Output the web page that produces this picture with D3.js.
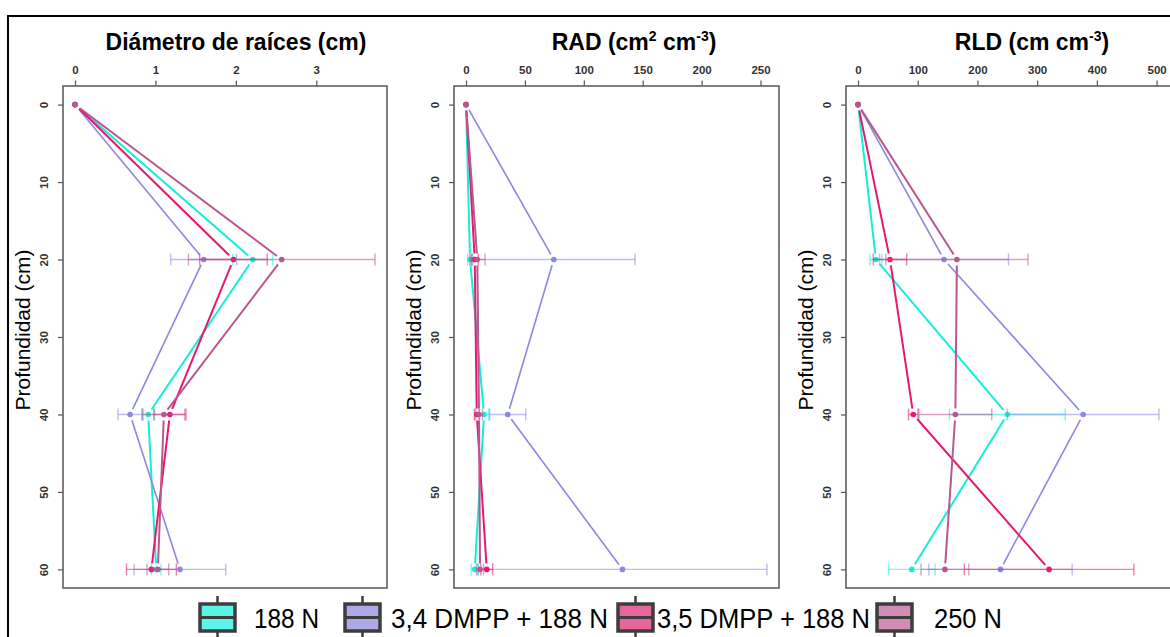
<!DOCTYPE html>
<html>
<head>
<meta charset="utf-8">
<script src="https://cdn.jsdelivr.net/npm/d3@7"></script>
<style>
  html, body { margin: 0; padding: 0; background: #fff; }
  svg { display: block; }
</style>
</head>
<body>
<svg id="chart" width="1170" height="637"></svg>
<script>
// ---------- DATA ----------
const depths = [0, 20, 40, 60];
const treatments = ["188 N", "3,4 DMPP + 188 N", "3,5 DMPP + 188 N", "250 N"];

// Diámetro de raíces (cm)
const diam188   = [0, 2.21, 0.91, 1.01];
const diam34    = [0, 1.60, 0.685, 1.305];
const diam35    = [0, 1.97, 1.18, 0.95];
const diam250   = [0, 2.57, 1.105, 1.03];
const diam188Se = [0, 0.25, 0.08, 0.06];
const diam34Se  = [0, 0.41, 0.15, 0.57];
const diam35Se  = [0, 0.42, 0.20, 0.31];
const diam250Se = [0, 1.16, 0.26, 0.135];

// RAD (cm2 cm-3)
const rad188   = [0, 3.4, 15.3, 7.4];
const rad34    = [0, 74.5, 35.4, 132.8];
const rad35    = [0, 7.4, 9.1, 17.6];
const rad250   = [0, 9.6, 11.0, 11.9];
const rad188Se = [0, 2.0, 4.0, 3.0];
const rad34Se  = [0, 69.0, 15.3, 122.7];
const rad35Se  = [0, 3.0, 2.0, 5.0];
const rad250Se = [0, 6.5, 3.0, 3.0];

// RLD (cm cm-3)
const rld188   = [0, 30, 250, 90];
const rld34    = [0, 144, 377, 238.6];
const rld35    = [0, 53.5, 92.5, 320];
const rld250   = [0, 165.6, 163, 145.5];
const rld188Se = [0, 10, 97, 39];
const rld34Se  = [0, 108, 127, 120];
const rld35Se  = [0, 28, 8, 142];
const rld250Se = [0, 119, 61, 40];

const diamTicks = [0, 1, 2, 3];
const radTicks  = [0, 50, 100, 150, 200, 250];
const rldTicks  = [0, 100, 200, 300, 400, 500];
const depthTicks = [0, 10, 20, 30, 40, 50, 60];

const lineColors   = ["#12EEDC", "#8B88E2", "#E8186E", "#B8588F"];
const legendColors = ["#5AF5E6", "#ADA9E6", "#E8659D", "#D18DB6"];

// ---------- LAYOUT ----------
const svg = d3.select("#chart");
const boxTop = 86, boxBottom = 588;

// outer frame
svg.append("rect").attr("x", 8).attr("y", 16).attr("width", 1180).attr("height", 640)
  .attr("fill", "none").attr("stroke", "#000").attr("stroke-width", 2);

const panels = [
  { left: 63,  right: 387,  titleX: 236,  ticks: diamTicks,
    title: [{t: "Diámetro de raíces (cm)"}],
    vals: [diam188, diam34, diam35, diam250], se: [diam188Se, diam34Se, diam35Se, diam250Se] },
  { left: 454, right: 779,  titleX: 634,  ticks: radTicks,
    title: [{t: "RAD (cm"}, {t: "2", sup: true}, {t: " cm"}, {t: "-3", sup: true}, {t: ")"}],
    vals: [rad188, rad34, rad35, rad250], se: [rad188Se, rad34Se, rad35Se, rad250Se] },
  { left: 846, right: 1171, titleX: 1032, ticks: rldTicks,
    title: [{t: "RLD (cm cm"}, {t: "-3", sup: true}, {t: ")"}],
    vals: [rld188, rld34, rld35, rld250], se: [rld188Se, rld34Se, rld35Se, rld250Se] }
];

const y = d3.scaleLinear().domain([-2.4, 62.4]).range([boxTop, boxBottom]);
const tickFont = "'Liberation Sans Narrow','Arial Narrow','Liberation Sans',Arial,sans-serif";

panels.forEach(p => {
  let maxV = 0;
  p.vals.forEach((arr, i) => arr.forEach((v, j) => { maxV = Math.max(maxV, v + p.se[i][j]); }));
  const x = d3.scaleLinear().domain([-0.04 * maxV, maxV * 1.04]).range([p.left, p.right]);
  const g = svg.append("g");

  // clip
  const clipId = "clip" + p.left;
  svg.append("clipPath").attr("id", clipId).append("rect")
    .attr("x", p.left).attr("y", boxTop).attr("width", p.right - p.left).attr("height", boxBottom - boxTop);

  // box
  g.append("rect").attr("x", p.left).attr("y", boxTop).attr("width", p.right - p.left)
    .attr("height", boxBottom - boxTop).attr("fill", "none").attr("stroke", "#555").attr("stroke-width", 1.5);

  // top axis
  const xAxis = d3.axisTop(x).tickValues(p.ticks).tickSize(5).tickPadding(7).tickFormat(d3.format("d"));
  const ga = g.append("g").attr("transform", `translate(0,${boxTop - 0.5})`).call(xAxis);
  ga.select(".domain").remove();
  ga.selectAll(".tick line").attr("stroke", "#555").attr("stroke-width", 1.2);
  ga.selectAll(".tick text").attr("font-family", tickFont).attr("font-size", 11.5)
    .attr("fill", "#333").attr("font-weight", "bold");

  // left axis (rotated labels)
  const yAxis = d3.axisLeft(y).tickValues(depthTicks).tickSize(5).tickFormat(d3.format("d"));
  const gy = g.append("g").attr("transform", `translate(${p.left},0)`).call(yAxis);
  gy.select(".domain").remove();
  gy.selectAll(".tick line").attr("stroke", "#555").attr("stroke-width", 1.2);
  gy.selectAll(".tick text").attr("font-family", tickFont).attr("font-size", 11.5)
    .attr("fill", "#333").attr("font-weight", "bold")
    .attr("x", null).attr("dy", null)
    .attr("text-anchor", "middle")
    .attr("transform", "translate(-15,0) rotate(-90)");

  // y label
  g.append("text").attr("transform", `translate(${p.left - 33},330) rotate(-90)`)
    .attr("text-anchor", "middle").attr("font-family", "'Liberation Sans',Arial,sans-serif")
    .attr("font-size", 21).attr("fill", "#000").text("Profundidad (cm)");

  // title
  const tt = g.append("text").attr("x", p.titleX).attr("y", 50).attr("text-anchor", "middle")
    .attr("font-family", "'Liberation Sans',Arial,sans-serif").attr("font-weight", "bold")
    .attr("font-size", 23).attr("fill", "#000");
  p.title.forEach((seg, k) => {
    const ts = tt.append("tspan").text(seg.t);
    if (seg.sup) ts.attr("font-size", 14).attr("dy", -9);
    else if (k > 0 && p.title[k - 1].sup) ts.attr("dy", 9);
  });

  const plot = g.append("g").attr("clip-path", `url(#${clipId})`);

  // series
  p.vals.forEach((arr, i) => {
    const col = lineColors[i];
    const pts = arr.map((v, j) => [x(v), y(depths[j])]);
    // lines with gaps (type "b")
    const gap = 6;
    for (let j = 0; j < pts.length - 1; j++) {
      const [x1, y1] = pts[j], [x2, y2] = pts[j + 1];
      const L = Math.hypot(x2 - x1, y2 - y1);
      if (L <= 2 * gap) continue;
      const ux = (x2 - x1) / L, uy = (y2 - y1) / L;
      plot.append("line")
        .attr("x1", x1 + ux * gap).attr("y1", y1 + uy * gap)
        .attr("x2", x2 - ux * gap).attr("y2", y2 - uy * gap)
        .attr("stroke", col).attr("stroke-width", i === 1 ? 1.6 : 2);
    }
  });

  p.vals.forEach((arr, i) => {
    const col = lineColors[i];
    // error bars
    arr.forEach((v, j) => {
      const s = p.se[i][j];
      if (!s) return;
      const yy = y(depths[j]);
      const xl = x(v - s), xr = x(v + s);
      const eg = plot.append("g").attr("stroke", col).attr("stroke-opacity", 0.55).attr("stroke-width", 1.4);
      eg.append("line").attr("x1", xl).attr("x2", xr).attr("y1", yy).attr("y2", yy);
      eg.append("line").attr("x1", xl).attr("x2", xl).attr("y1", yy - 6).attr("y2", yy + 6);
      eg.append("line").attr("x1", xr).attr("x2", xr).attr("y1", yy - 6).attr("y2", yy + 6);
    });
    // points
    plot.selectAll(null).data(arr).enter().append("circle")
      .attr("cx", d => x(d)).attr("cy", (d, j) => y(depths[j])).attr("r", 2.8)
      .attr("fill", col);
  });
});

// ---------- LEGEND ----------
const legendItems = [
  { iconX: 200, textX: 254, textLen: 65 },
  { iconX: 345, textX: 391, textLen: 217 },
  { iconX: 618, textX: 657, textLen: 213 },
  { iconX: 877, textX: 934, textLen: 68 }
];
const lg = svg.append("g");
treatments.forEach((name, i) => {
  const it = legendItems[i];
  const w = 35, top = 604, h = 27, cx = it.iconX + w / 2;
  lg.append("line").attr("x1", cx).attr("x2", cx).attr("y1", 596).attr("y2", 640)
    .attr("stroke", "#3d3d3d").attr("stroke-width", 2.5);
  lg.append("rect").attr("x", it.iconX).attr("y", top).attr("width", w).attr("height", h)
    .attr("fill", legendColors[i]).attr("stroke", "#3d3d3d").attr("stroke-width", 3.5);
  lg.append("line").attr("x1", it.iconX).attr("x2", it.iconX + w).attr("y1", top + h / 2).attr("y2", top + h / 2)
    .attr("stroke", "#3d3d3d").attr("stroke-width", 3);
  lg.append("text").attr("x", it.textX).attr("y", 628)
    .attr("font-family", "'Liberation Sans Narrow','Arial Narrow','Liberation Sans',Arial,sans-serif")
    .attr("font-size", 28).attr("fill", "#000")
    .attr("textLength", it.textLen).attr("lengthAdjust", "spacingAndGlyphs")
    .text(name);
});
</script>
</body>
</html>
